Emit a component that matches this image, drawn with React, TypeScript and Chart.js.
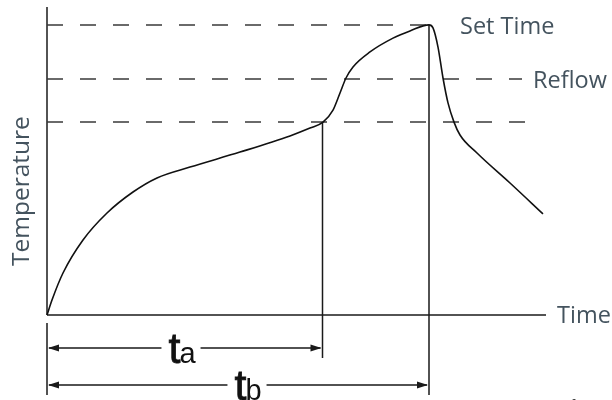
import React, { useEffect, useRef } from "react";
import { Chart, registerables } from "chart.js";

Chart.register(...registerables);

// Reflow profile curve (time, temperature) in arbitrary units
const profileTime = [0, 1, 3.2, 7.2, 12, 17.2, 22, 28.6, 38.6, 48.6, 52.6, 55.2, 57.2, 58.6, 59.8, 61.2, 64.6, 69.2, 72.6, 76.4, 77.2, 78.2, 79.2, 80.2, 81.4, 82.6, 86, 92.6, 99.2];
const profileTemp = [0, 5, 14, 25, 34, 41, 45.7, 49.3, 54.3, 59.7, 62.3, 64.3, 68.3, 74, 79, 82.7, 87.7, 92.3, 94.7, 96.7, 95.7, 89.3, 79, 70.7, 64.3, 60, 54, 44, 33.7];

// Horizontal reference levels
const levelNames = ["Set Time", "Reflow", ""];
const levelTemps = [96.7, 78.7, 64.3];
const levelEnds = [76.4, 95, 96.2];
const levelLabelTimes = [82.6, 97.2, 0];

// Time markers t_a and t_b
const markerSubs = ["a", "b"];
const markerTimes = [55.1, 76.4];
const markerTops = [64.3, 96.7];
const markerBottoms = [-14.3, -26.7];
const markerArrowTemps = [-11, -23.3];
const markerLabelTimes = [27, 40.2];

// Axes extents
const axisTimeEnd = 99.8;
const axisTempTop = 102.7;
const axisLabelX = "Time";
const axisLabelY = "Temperature";
const axisLabelYCenter = 41.3;
const captionText = "Fig. 1";

const TEXT_COLOR = "#44535e";
const FONT = "'Open Sans', 'Noto Sans', sans-serif";

export default function App() {
  const ref = useRef<HTMLCanvasElement | null>(null);

  useEffect(() => {
    const canvas = ref.current;
    if (!canvas) return;

    const line = (pts: { x: number; y: number }[], extra: any = {}) => ({
      data: pts,
      borderColor: "#1a1a1a",
      borderWidth: 1.5,
      pointRadius: 0,
      tension: 0,
      clip: false,
      ...extra,
    });

    const datasets: any[] = [];
    datasets.push(
      line(
        profileTime.map((t, i) => ({ x: t, y: profileTemp[i] })),
        { cubicInterpolationMode: "monotone", borderColor: "#111", borderWidth: 1.6 }
      )
    );
    levelTemps.forEach((v, i) => {
      datasets.push(
        line([{ x: 0, y: v }, { x: levelEnds[i], y: v }], {
          borderDash: [16, 17],
          borderColor: "#3a3a3a",
          borderWidth: 1.5,
        })
      );
    });
    markerTimes.forEach((t, i) => {
      datasets.push(line([{ x: t, y: markerTops[i] }, { x: t, y: markerBottoms[i] }]));
    });
    datasets.push(line([{ x: 0, y: 0 }, { x: 0, y: axisTempTop }]));
    datasets.push(line([{ x: 0, y: 0 }, { x: axisTimeEnd, y: 0 }]));
    datasets.push(line([{ x: 0, y: -2.7 }, { x: 0, y: Math.min(...markerBottoms) }]));

    const annotate = {
      id: "annotate",
      afterDatasetsDraw(chart: any) {
        const ctx = chart.ctx as CanvasRenderingContext2D;
        const xs = chart.scales.x;
        const ys = chart.scales.y;
        const px = (v: number) => xs.getPixelForValue(v);
        const py = (v: number) => ys.getPixelForValue(v);
        ctx.save();

        // level labels
        ctx.fillStyle = TEXT_COLOR;
        ctx.font = `23.5px ${FONT}`;
        ctx.textAlign = "left";
        ctx.textBaseline = "alphabetic";
        levelNames.forEach((name, i) => {
          if (!name) return;
          ctx.fillText(name, px(levelLabelTimes[i]), py(levelTemps[i]) + 9.5);
        });
        // axis labels
        ctx.fillText(axisLabelX, px(axisTimeEnd) + 11, py(0) + 8);
        ctx.save();
        ctx.translate(28.5, py(axisLabelYCenter));
        ctx.rotate(-Math.PI / 2);
        ctx.textAlign = "center";
        ctx.font = `24.5px ${FONT}`;
        ctx.fillText(axisLabelY, 0, 0);
        ctx.restore();

        // caption (cut at bottom edge)
        ctx.fillStyle = "#333";
        ctx.font = `bold italic 22px ${FONT}`;
        ctx.fillText(captionText, 557, 415);

        // arrows with labels
        markerTimes.forEach((t, i) => {
          const y = py(markerArrowTemps[i]);
          const x0 = px(0);
          const x1 = px(t);
          const lx = px(markerLabelTimes[i]);
          const bigFont = "43px 'Liberation Sans', Arial, sans-serif";
          const smallFont = "29px 'Liberation Sans', Arial, sans-serif";
          ctx.font = bigFont;
          const wT = ctx.measureText("t").width;
          ctx.font = smallFont;
          const wS = ctx.measureText(markerSubs[i]).width;
          const total = wT - 1 + wS;
          const left = lx - total / 2;
          const gapL = left - 7;
          const gapR = left + total + 5;

          ctx.strokeStyle = "#1a1a1a";
          ctx.lineWidth = 1.5;
          ctx.beginPath();
          ctx.moveTo(x0 + 2, y);
          ctx.lineTo(gapL, y);
          ctx.moveTo(gapR, y);
          ctx.lineTo(x1 - 2, y);
          ctx.stroke();
          ctx.fillStyle = "#1a1a1a";
          const head = (tipX: number, dir: number) => {
            ctx.beginPath();
            ctx.moveTo(tipX, y);
            ctx.lineTo(tipX - dir * 11, y - 3.5);
            ctx.lineTo(tipX - dir * 11, y + 3.5);
            ctx.closePath();
            ctx.fill();
          };
          head(x0 + 1, -1);
          head(x1 - 1, 1);

          ctx.fillStyle = "#111";
          ctx.textAlign = "left";
          ctx.textBaseline = "alphabetic";
          ctx.font = bigFont;
          ctx.fillText("t", left, y + 15);
          ctx.lineWidth = 0.8;
          ctx.strokeStyle = "#111";
          ctx.strokeText("t", left, y + 15);
          ctx.font = smallFont;
          ctx.fillText(markerSubs[i], left + wT - 1, y + 15);
        });

        ctx.restore();
      },
    };

    const chart = new Chart(canvas, {
      type: "line",
      data: { datasets },
      options: {
        animation: false,
        responsive: false,
        devicePixelRatio: 1,
        layout: { padding: { left: 47, right: 65, top: 15, bottom: 85 } },
        plugins: { legend: { display: false }, tooltip: { enabled: false } },
        events: [],
        scales: {
          x: { type: "linear", min: 0, max: 100, display: false },
          y: { type: "linear", min: 0, max: 100, display: false },
        },
      },
      plugins: [annotate],
    });
    return () => chart.destroy();
  }, []);

  return (
    <div style={{ position: "absolute", left: 0, top: 0, width: 612, height: 400, background: "#fff" }}>
      <canvas ref={ref} width={612} height={400} style={{ width: 612, height: 400, display: "block" }} />
    </div>
  );
}
